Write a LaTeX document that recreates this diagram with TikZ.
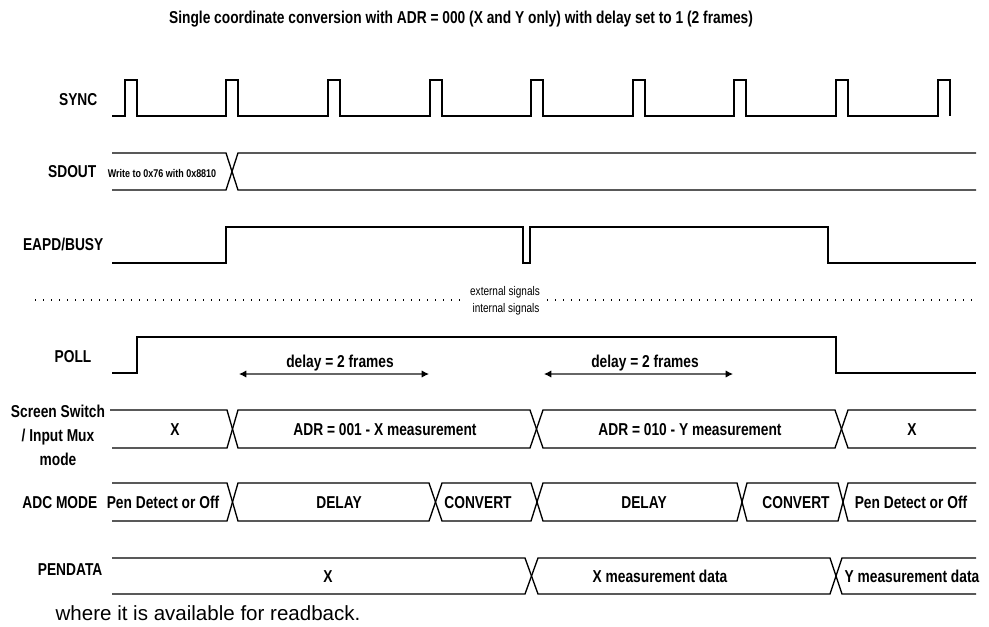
\documentclass[tikz,border=0pt]{standalone}
\usepackage{fontspec}
\setmainfont{Liberation Sans}[FakeStretch=0.8]
\newfontfamily\plainfont{Liberation Sans}
\usetikzlibrary{arrows.meta}

\begin{document}
\begin{tikzpicture}[x=0.75pt, y=-0.75pt, line width=1pt,
  every node/.style={inner sep=0pt, font=\fontsize{12.9}{15}\selectfont\bfseries},
  lbl/.style={anchor=base east},
  val/.style={anchor=base},
  small/.style={anchor=base, font=\fontsize{8.4}{10}\selectfont\bfseries},
  note/.style={anchor=base, font=\fontsize{9.4}{11}\selectfont},
  sep/.style={line width=1pt, dash pattern=on 1.1pt off 4.9pt},
  dimarrow/.style={draw=black!60, line width=0.8pt,
    {Latex[length=5.5pt,width=5.5pt,black]}-{Latex[length=5.5pt,width=5.5pt,black]}}]

\useasboundingbox (0,0) rectangle (989,626);

\node[val] (title) at (461,23) {Single coordinate conversion with ADR = 000 (X and Y only) with delay set to 1 (2 frames)};

% signal names
\node[lbl] (sync) at (98,105) {SYNC};
\node[lbl] (sdout) at (97,177) {SDOUT};
\node[lbl] (busy) at (104,250) {EAPD/BUSY};
\node[lbl] (poll) at (92,362) {POLL};
\node[anchor=base, align=center, font=\fontsize{12.9}{18}\selectfont\bfseries] (mux) at (58,465) {Screen Switch\\/ Input Mux\\mode};
\node[lbl] (adc) at (98,508) {ADC MODE};
\node[lbl] (pendata) at (103,575) {PENDATA};

% SYNC
\draw (112,116) foreach \x in {125,226,328,430,531,633,734,836,938} {-- (\x,116) |- (\x+12,80) -- (\x+12,116)};

% SDOUT
\draw (112,153) -- (226,153) -- (238,190) -- (976,190);
\draw (112,190) -- (226,190) -- (238,153) -- (976,153);
\node[small] (wr) at (162,177) {Write to 0x76 with 0x8810};

% EAPD/BUSY
\draw (112,263) -| (226,227) -| (523,263) -| (530,227) -| (828,263) -- (976,263);

% external / internal
\coordinate (sepl) at (35,300);
\coordinate (sepa) at (461,300);
\coordinate (sepb) at (547,300);
\coordinate (sepr) at (976,300);
\draw[sep] (sepl) -- (sepa);
\draw[sep] (sepb) -- (sepr);
\node[note] (ext) at (505,295) {external signals};
\node[note] (int) at (506,312) {internal signals};

% POLL
\draw (112,373) -| (137,337) -| (836,373) -- (976,373);
\coordinate (d1l) at (239,374);
\coordinate (d1r) at (429,374);
\coordinate (d2l) at (544,374);
\coordinate (d2r) at (733,374);
\draw[dimarrow] (d1l) -- (d1r);
\draw[dimarrow] (d2l) -- (d2r);
\node[val] (dl1) at (340,367) {delay = 2 frames};
\node[val] (dl2) at (645,367) {delay = 2 frames};

% Screen Switch / Input Mux
\draw (110,410) -- (227,410) -- (238,448) -- (530,448) -- (543,410) -- (835,410) -- (848,448) -- (976,448);
\draw (112,448) -- (227,448) -- (238,410) -- (530,410) -- (543,448) -- (835,448) -- (848,410) -- (976,410);
\node[val] (mx1) at (175,435) {X};
\node[val] (mx2) at (385,435) {ADR = 001 - X measurement};
\node[val] (mx3) at (690,435) {ADR = 010 - Y measurement};
\node[val] (mx4) at (912,435) {X};

% ADC MODE
\draw (112,483) -- (227,483) -- (238,521) -- (429,521) -- (442,483) -- (531,483) -- (543,521) -- (737,521) -- (747,483) -- (838,483) -- (848,521) -- (976,521);
\draw (112,521) -- (227,521) -- (238,483) -- (429,483) -- (442,521) -- (531,521) -- (543,483) -- (737,483) -- (747,521) -- (838,521) -- (848,483) -- (976,483);
\node[val] (ad1) at (163,508) {Pen Detect or Off};
\node[val] (ad2) at (339,508) {DELAY};
\node[val] (ad3) at (478,508) {CONVERT};
\node[val] (ad4) at (644,508) {DELAY};
\node[val] (ad5) at (796,508) {CONVERT};
\node[val] (ad6) at (911,508) {Pen Detect or Off};

% PENDATA
\draw (112,558) -- (525,558) -- (538,594) -- (830,594) -- (842,558) -- (976,558);
\draw (112,594) -- (525,594) -- (538,558) -- (830,558) -- (842,594) -- (976,594);
\node[val] (pd1) at (328,582) {X};
\node[val] (pd2) at (660,582) {X measurement data};
\node[val] (pd3) at (912,582) {Y measurement data};

\node[anchor=base west, font=\fontsize{15.4}{18}\plainfont] (tail) at (55,620) {where it is available for readback.};

\end{tikzpicture}
\end{document}
